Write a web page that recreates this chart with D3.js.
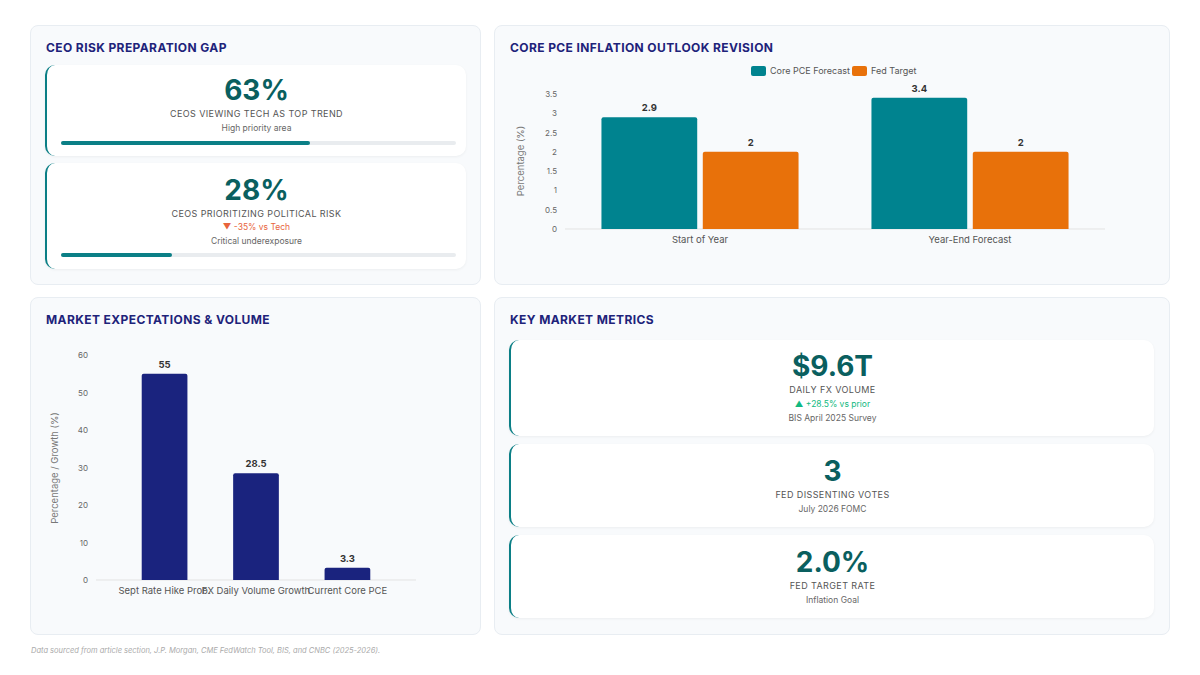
<!DOCTYPE html>
<html><head><meta charset="utf-8">
<script src="https://cdn.jsdelivr.net/npm/d3@7"></script>
<style>
body{margin:0;width:1200px;height:675px;background:#fff;font-family:Inter,"Noto Sans",sans-serif;position:relative;overflow:hidden}
.panel{position:absolute;background:#f8fafc;border:1px solid #e8edf2;border-radius:8px;box-sizing:border-box}
.ptitle{position:absolute;left:15px;top:14px;font-size:12px;font-weight:700;color:#1e237a;letter-spacing:.4px}
.card{position:absolute;background:#fff;border-left:2px solid #0b7f86;border-radius:10px;box-shadow:0 1px 3px rgba(0,0,0,.05);box-sizing:border-box;text-align:center}
.big{font-weight:700;color:#0a5f5f;font-size:28px;line-height:30px}
.lab{font-size:9px;color:#555;letter-spacing:.4px;text-transform:uppercase;margin-top:3px}
.sub{font-size:8.5px;color:#666;margin-top:4px}
.up{font-size:8.5px;color:#10b981;margin-top:4px}
.dn{font-size:8.5px;color:#e8643c;margin-top:3px}
.bar{position:absolute;left:14px;right:10px;height:4px;background:#e9ecef;border-radius:2px}
.bar div{height:100%;background:#0b7f86;border-radius:2px}
svg{position:absolute;left:0;top:0}
.foot{position:absolute;left:31px;top:646px;font-size:7.5px;color:#aaa;font-style:italic}
</style></head><body>
<div class="panel" style="left:30px;top:25px;width:451px;height:260px"><div class="ptitle">CEO RISK PREPARATION GAP</div></div>
<div class="panel" style="left:494px;top:25px;width:676px;height:260px"><div class="ptitle">CORE PCE INFLATION OUTLOOK REVISION</div></div>
<div class="panel" style="left:30px;top:297px;width:451px;height:338px"><div class="ptitle">MARKET EXPECTATIONS &amp; VOLUME</div></div>
<div class="panel" style="left:494px;top:297px;width:676px;height:338px"><div class="ptitle">KEY MARKET METRICS</div></div>
<div id="cards"></div>
<svg id="chart" width="1200" height="675"></svg>
<div class="foot">Data sourced from article section, J.P. Morgan, CME FedWatch Tool, BIS, and CNBC (2025-2026).</div>
<script>
// ---- data ----
const ceoValues = ["63%","28%"];
const ceoLabels = ["CEOs Viewing Tech as Top Trend","CEOs Prioritizing Political Risk"];
const ceoSubs = ["High priority area","Critical underexposure"];
const ceoProgress = [63,28];
const pceCategories = ["Start of Year","Year-End Forecast"];
const pceSeries = ["Core PCE Forecast","Fed Target"];
const pceForecast = [2.9,3.4];
const pceTarget = [2,2];
const pceTicks = [0,0.5,1,1.5,2,2.5,3,3.5];
const mktCategories = ["Sept Rate Hike Prob.","FX Daily Volume Growth","Current Core PCE"];
const mktValues = [55,28.5,3.3];
const mktTicks = [0,10,20,30,40,50,60];
const metricValues = ["$9.6T","3","2.0%"];
const metricLabels = ["Daily FX Volume","Fed Dissenting Votes","Fed Target Rate"];
const metricSubs = ["BIS April 2025 Survey","July 2026 FOMC","Inflation Goal"];

const cards = d3.select("#cards");
// CEO cards
const ceoBox=[{y:65,h:91,pt:10},{y:163,h:106,pt:12}];
ceoValues.forEach((v,i)=>{
  const c=cards.append("div").attr("class","card").style("left","45px").style("top",ceoBox[i].y+"px")
   .style("width","421px").style("height",ceoBox[i].h+"px").style("padding-top",ceoBox[i].pt+"px");
  c.append("div").attr("class","big").text(v);
  c.append("div").attr("class","lab").text(ceoLabels[i]);
  if(i===1) c.append("div").attr("class","dn").text("▼ -35% vs Tech");
  c.append("div").attr("class","sub").text(ceoSubs[i]);
  c.append("div").attr("class","bar").style("bottom",(i?12:11)+"px").append("div").style("width",ceoProgress[i]+"%");
});
// metric cards
const mBox=[{y:340,h:96,pt:11},{y:444,h:83,pt:12},{y:535,h:83,pt:12}];
metricValues.forEach((v,i)=>{
  const c=cards.append("div").attr("class","card").style("left","509px").style("top",mBox[i].y+"px")
   .style("width","645px").style("height",mBox[i].h+"px").style("padding-top",mBox[i].pt+"px");
  c.append("div").attr("class","big").text(v);
  c.append("div").attr("class","lab").text(metricLabels[i]);
  if(i===0) c.append("div").attr("class","up").text("▲ +28.5% vs prior");
  c.append("div").attr("class","sub").text(metricSubs[i]);
});

const svg=d3.select("#chart");
const teal="#00838f", orange="#e8710a", navy="#1a237e";
function yAxis(g,y,ticks,x0,x1){
  ticks.forEach(t=>{
    g.append("text").attr("x",x0-8).attr("y",y(t)+3).attr("text-anchor","end").attr("font-size",8).attr("fill","#666").text(t);
  });
  g.append("line").attr("x1",x0).attr("x2",x1).attr("y1",y(0)).attr("y2",y(0)).attr("stroke","#e3e3e3");
}
// PCE chart
{
  const g=svg.append("g");
  const x0=565,x1=1105;
  const y=d3.scaleLinear().domain([0,3.5]).range([229,94]);
  const x=d3.scaleBand().domain(pceCategories).range([x0,x1]).paddingInner(0.27).paddingOuter(0.135);
  const xs=d3.scaleBand().domain(pceSeries).range([0,x.bandwidth()]).paddingInner(0.055);
  yAxis(g,y,pceTicks,x0,x1);
  const vals=[pceForecast,pceTarget], cols=[teal,orange];
  pceSeries.forEach((s,si)=>{
    pceCategories.forEach((c,ci)=>{
      const v=vals[si][ci], bx=x(c)+xs(s);
      g.append("path").attr("fill",cols[si]).attr("d",`M${bx},${y(0)}V${y(v)+2}q0,-2 2,-2H${bx+xs.bandwidth()-2}q2,0 2,2V${y(0)}Z`);
      g.append("text").attr("x",bx+xs.bandwidth()/2).attr("y",y(v)-6).attr("text-anchor","middle").attr("font-size",9.5).attr("font-weight",700).attr("fill","#333").text(v);
    });
  });
  pceCategories.forEach(c=>g.append("text").attr("x",x(c)+x.bandwidth()/2).attr("y",243).attr("text-anchor","middle").attr("font-size",9.5).attr("fill","#555").text(c));
  g.append("text").attr("transform",`translate(524,161) rotate(-90)`).attr("text-anchor","middle").attr("font-size",9.5).attr("fill","#777").text("Percentage (%)");
  // legend
  const lx=[751,852];
  pceSeries.forEach((s,i)=>{
    g.append("rect").attr("x",lx[i]).attr("y",66).attr("width",15).attr("height",10).attr("rx",2).attr("fill",cols[i]);
    g.append("text").attr("x",lx[i]+19).attr("y",74).attr("font-size",9).attr("fill","#555").text(s);
  });
}
// market chart
{
  const g=svg.append("g");
  const x0=96,x1=416;
  const y=d3.scaleLinear().domain([0,60]).range([580,355]);
  const x=d3.scaleBand().domain(mktCategories).range([x0,x1]).padding(0.5);
  yAxis(g,y,mktTicks,x0,x1);
  mktCategories.forEach((c,i)=>{
    const v=mktValues[i], bx=x(c);
    g.append("path").attr("fill",navy).attr("d",`M${bx},${y(0)}V${y(v)+2}q0,-2 2,-2H${bx+x.bandwidth()-2}q2,0 2,2V${y(0)}Z`);
    g.append("text").attr("x",bx+x.bandwidth()/2).attr("y",y(v)-6).attr("text-anchor","middle").attr("font-size",9.5).attr("font-weight",700).attr("fill","#333").text(v);
    g.append("text").attr("x",bx+x.bandwidth()/2).attr("y",594).attr("text-anchor","middle").attr("font-size",9.5).attr("fill","#555").text(c);
  });
  g.append("text").attr("transform",`translate(58,468) rotate(-90)`).attr("text-anchor","middle").attr("font-size",9.5).attr("fill","#777").text("Percentage / Growth (%)");
}
</script></body></html>
